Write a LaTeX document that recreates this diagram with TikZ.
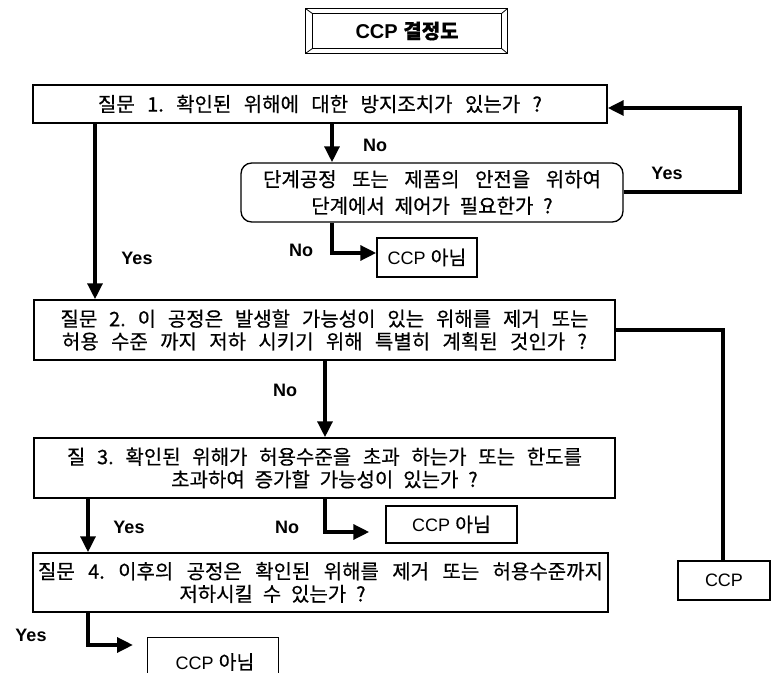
\documentclass[tikz,border=0pt]{standalone}
\usepackage{fontspec}
\setmainfont{Liberation Sans}
\newfontfamily\kf{Noto Sans CJK KR}[WordSpace=2.2, FakeBold=0.45]
\usetikzlibrary{arrows.meta,calc}
\newlength\pxu
\setlength\pxu{0.75pt}
\newcommand{\pxl}[2]{\makebox[#1\pxu][s]{#2}}
\frenchspacing
\begin{document}
\begin{tikzpicture}[x=0.75pt,y=-0.75pt]
\tikzset{
  qbox/.style={draw, line width=1pt, inner sep=0pt, align=center, font=\kf\fontsize{15}{17}\selectfont},
  nbox/.style={draw, line width=1pt, inner sep=0pt, font=\fontsize{13.5}{16}\selectfont},
  lbl/.style={font=\bfseries\fontsize{13.5}{16}\selectfont, inner sep=0pt},
  conn/.style={line width=3pt},
  arr/.style={conn, -{Triangle[length=12pt,width=11pt]}},
  sz/.style 2 args={minimum width=#1*0.75pt, minimum height=#2*0.75pt},
  thin/.style={line width=1pt}
}
\newcommand{\kn}{{\kf\fontsize{14.5}{16}\selectfont 아님}}
\useasboundingbox (0,0) rectangle (772,673);

% title
\node[font=\bfseries\fontsize{15}{17}\selectfont, inner sep=0pt, sz={188}{34}] (title) at (407,31) {CCP {\kf\fontsize{15}{17}\selectfont 결정도}};
\coordinate (tiSW) at (title.south west);
\coordinate (tiNE) at (title.north east);
\coordinate (tiNW) at (title.north west);
\coordinate (tiSE) at (title.south east);
\coordinate (toSW) at ($(tiSW)+(-7,5)$);
\coordinate (toNE) at ($(tiNE)+(6,-5)$);
\coordinate (toNW) at ($(tiNW)+(-7,-5)$);
\coordinate (toSE) at ($(tiSE)+(6,5)$);
\draw[thin] (tiSW) rectangle (tiNE);
\draw[thin] (toSW) rectangle (toNE);
\draw[line width=0.6pt] (tiSW) -- (toSW) (tiNE) -- (toNE) (tiNW) -- (toNW) (tiSE) -- (toSE);

% boxes
\node[qbox, sz={574}{38}] (q1) at (320,104) {\pxl{444}{질문 1. 확인된 위해에 대한 방지조치가 있는가 ?}};
\node[qbox, rounded corners=8pt, sz={382}{59}, font=\kf\fontsize{15}{20}\selectfont] (q1b) at (432,192.5) {\pxl{338}{단계공정 또는 제품의 안전을 위하여}\\단계에서 제어가 필요한가 ?};
\node[nbox, sz={100}{39}] (n1) at (427,257.5) {CCP \kn};
\node[qbox, sz={581}{60}] (q2) at (324.5,330) {\pxl{528}{질문 2. 이 공정은 발생할 가능성이 있는 위해를 제거 또는}\\\pxl{525}{허용 수준 까지 저하 시키기 위해 특별히 계획된 것인가 ?}};
\node[qbox, sz={581}{60}] (q3) at (324.5,468) {\pxl{515}{질 3. 확인된 위해가 허용수준을 초과 하는가 또는 한도를}\\초과하여 증가할 가능성이 있는가 ?};
\node[nbox, sz={131}{37}] (n2) at (451.5,524.5) {CCP \kn};
\node[qbox, sz={575}{59}] (q4) at (320.5,582.5) {\pxl{565}{질문 4. 이후의 공정은 확인된 위해를 제거 또는 허용수준까지}\\저하시킬 수 있는가 ?\hspace*{72pt}};
\node[nbox, sz={92}{39}] (ccp) at (724,580.5) {CCP};
\node[inner sep=0pt, sz={130}{35}] (n3) at (213,655.5) {};
\node[inner sep=0pt, font=\fontsize{13.5}{16}\selectfont] (n3t) at (215,662) {CCP \kn};
\draw[thin] (n3.south west) -- (n3.north west) -- (n3.north east) -- (n3.south east);

% helper coordinates
\coordinate (xA) at (332,0);
\coordinate (xB) at (95,0);
\coordinate (xC) at (325,0);
\coordinate (xD) at (88,0);
\coordinate (loop) at (740,108);
\coordinate (bend1) at (332,253);
\coordinate (bend3) at (325,532);
\coordinate (bend4) at (88,645);
\coordinate (ccpx) at (723,330);

% connectors
\draw[arr] (q1.south -| xA) -- (q1b.north -| xA);
\draw[arr] (q1b.east) -| (loop) -- (q1.east |- loop);
\draw[arr] (q1b.south -| xA) |- (n1.west |- bend1);
\draw[arr] (q1.south -| xB) -- (q2.north -| xB);
\draw[conn] (q2.east |- ccpx) -| (ccp.north -| ccpx);
\draw[arr] (q2.south -| xC) -- (q3.north -| xC);
\draw[arr, shorten >=12pt] (q3.south -| xC) |- (n2.west |- bend3);
\draw[arr] (q3.south -| xD) -- (q4.north -| xD);
\draw[arr, shorten >=11pt] (q4.south -| xD) |- (n3.west |- bend4);

% labels
\node[lbl] (l1) at (375,145) {No};
\node[lbl] (l2) at (667,173) {Yes};
\node[lbl] (l3) at (301,250) {No};
\node[lbl] (l4) at (137,258) {Yes};
\node[lbl] (l5) at (285,390) {No};
\node[lbl] (l6) at (129,527) {Yes};
\node[lbl] (l7) at (287,527) {No};
\node[lbl] (l8) at (31,635) {Yes};
\end{tikzpicture}
\end{document}
